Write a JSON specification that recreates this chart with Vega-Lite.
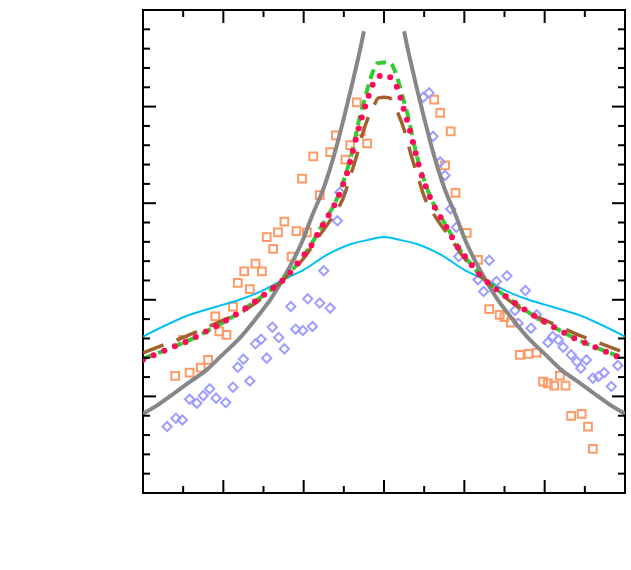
{
  "$schema": "https://vega.github.io/schema/vega-lite/v6.json",
  "width": 482,
  "height": 483,
  "autosize": "none",
  "padding": {"left": 143, "top": 10, "right": 6, "bottom": 77},
  "background": "white",
  "datasets": {
    "xticks": [
      {"t": -3, "k": "major", "e": 1}, {"t": -2.5, "k": "minor", "e": 1}, {"t": -2, "k": "major", "e": 1}, {"t": -1.5, "k": "minor", "e": 1},
      {"t": -1, "k": "major", "e": 1}, {"t": -0.5, "k": "minor", "e": 1}, {"t": 0, "k": "major", "e": 1}, {"t": 0.5, "k": "minor", "e": 1},
      {"t": 1, "k": "major", "e": 1}, {"t": 1.5, "k": "minor", "e": 1}, {"t": 2, "k": "major", "e": 1}, {"t": 2.5, "k": "minor", "e": 1},
      {"t": 3, "k": "major", "e": 1},
      {"t": -3, "k": "major", "e": 1.25}, {"t": -2.5, "k": "minor", "e": 1.25}, {"t": -2, "k": "major", "e": 1.25}, {"t": -1.5, "k": "minor", "e": 1.25},
      {"t": -1, "k": "major", "e": 1.25}, {"t": -0.5, "k": "minor", "e": 1.25}, {"t": 0, "k": "major", "e": 1.25}, {"t": 0.5, "k": "minor", "e": 1.25},
      {"t": 1, "k": "major", "e": 1.25}, {"t": 1.5, "k": "minor", "e": 1.25}, {"t": 2, "k": "major", "e": 1.25}, {"t": 2.5, "k": "minor", "e": 1.25},
      {"t": 3, "k": "major", "e": 1.25}
    ],
    "yticks": [
      {"t": 1.0, "k": "major", "e": -3}, {"t": 1.01, "k": "minor", "e": -3}, {"t": 1.02, "k": "minor", "e": -3}, {"t": 1.03, "k": "minor", "e": -3},
      {"t": 1.04, "k": "minor", "e": -3}, {"t": 1.05, "k": "major", "e": -3}, {"t": 1.06, "k": "minor", "e": -3}, {"t": 1.07, "k": "minor", "e": -3},
      {"t": 1.08, "k": "minor", "e": -3}, {"t": 1.09, "k": "minor", "e": -3}, {"t": 1.1, "k": "major", "e": -3}, {"t": 1.11, "k": "minor", "e": -3},
      {"t": 1.12, "k": "minor", "e": -3}, {"t": 1.13, "k": "minor", "e": -3}, {"t": 1.14, "k": "minor", "e": -3}, {"t": 1.15, "k": "major", "e": -3},
      {"t": 1.16, "k": "minor", "e": -3}, {"t": 1.17, "k": "minor", "e": -3}, {"t": 1.18, "k": "minor", "e": -3}, {"t": 1.19, "k": "minor", "e": -3},
      {"t": 1.2, "k": "major", "e": -3}, {"t": 1.21, "k": "minor", "e": -3}, {"t": 1.22, "k": "minor", "e": -3}, {"t": 1.23, "k": "minor", "e": -3},
      {"t": 1.24, "k": "minor", "e": -3}, {"t": 1.25, "k": "major", "e": -3},
      {"t": 1.0, "k": "major", "e": 3}, {"t": 1.01, "k": "minor", "e": 3}, {"t": 1.02, "k": "minor", "e": 3}, {"t": 1.03, "k": "minor", "e": 3},
      {"t": 1.04, "k": "minor", "e": 3}, {"t": 1.05, "k": "major", "e": 3}, {"t": 1.06, "k": "minor", "e": 3}, {"t": 1.07, "k": "minor", "e": 3},
      {"t": 1.08, "k": "minor", "e": 3}, {"t": 1.09, "k": "minor", "e": 3}, {"t": 1.1, "k": "major", "e": 3}, {"t": 1.11, "k": "minor", "e": 3},
      {"t": 1.12, "k": "minor", "e": 3}, {"t": 1.13, "k": "minor", "e": 3}, {"t": 1.14, "k": "minor", "e": 3}, {"t": 1.15, "k": "major", "e": 3},
      {"t": 1.16, "k": "minor", "e": 3}, {"t": 1.17, "k": "minor", "e": 3}, {"t": 1.18, "k": "minor", "e": 3}, {"t": 1.19, "k": "minor", "e": 3},
      {"t": 1.2, "k": "major", "e": 3}, {"t": 1.21, "k": "minor", "e": 3}, {"t": 1.22, "k": "minor", "e": 3}, {"t": 1.23, "k": "minor", "e": 3},
      {"t": 1.24, "k": "minor", "e": 3}, {"t": 1.25, "k": "major", "e": 3}
    ],
    "gray": [
      {"b": "L", "x": -3.0, "v": 1.041}, {"b": "L", "x": -2.8, "v": 1.046}, {"b": "L", "x": -2.6, "v": 1.052},
      {"b": "L", "x": -2.4, "v": 1.058}, {"b": "L", "x": -2.2, "v": 1.064}, {"b": "L", "x": -2.0, "v": 1.072},
      {"b": "L", "x": -1.8, "v": 1.080}, {"b": "L", "x": -1.6, "v": 1.090}, {"b": "L", "x": -1.4, "v": 1.101},
      {"b": "L", "x": -1.2, "v": 1.115}, {"b": "L", "x": -1.0, "v": 1.132}, {"b": "L", "x": -0.9, "v": 1.143},
      {"b": "L", "x": -0.75, "v": 1.158}, {"b": "L", "x": -0.6, "v": 1.178}, {"b": "L", "x": -0.5, "v": 1.194},
      {"b": "L", "x": -0.4, "v": 1.211}, {"b": "L", "x": -0.35, "v": 1.220}, {"b": "L", "x": -0.3, "v": 1.229},
      {"b": "L", "x": -0.25, "v": 1.239},
      {"b": "R", "x": 0.25, "v": 1.239}, {"b": "R", "x": 0.3, "v": 1.229}, {"b": "R", "x": 0.35, "v": 1.220},
      {"b": "R", "x": 0.4, "v": 1.211}, {"b": "R", "x": 0.5, "v": 1.194}, {"b": "R", "x": 0.6, "v": 1.178},
      {"b": "R", "x": 0.75, "v": 1.158}, {"b": "R", "x": 0.9, "v": 1.143}, {"b": "R", "x": 1.0, "v": 1.132},
      {"b": "R", "x": 1.2, "v": 1.115}, {"b": "R", "x": 1.4, "v": 1.101}, {"b": "R", "x": 1.6, "v": 1.090},
      {"b": "R", "x": 1.8, "v": 1.080}, {"b": "R", "x": 2.0, "v": 1.072}, {"b": "R", "x": 2.2, "v": 1.064},
      {"b": "R", "x": 2.4, "v": 1.058}, {"b": "R", "x": 2.6, "v": 1.052}, {"b": "R", "x": 2.8, "v": 1.046},
      {"b": "R", "x": 3.0, "v": 1.041}
    ],
    "cyan": [
      {"x": -3.0, "v": 1.081}, {"x": -2.4, "v": 1.0925}, {"x": -2.0, "v": 1.0975}, {"x": -1.8, "v": 1.100},
      {"x": -1.5, "v": 1.105}, {"x": -1.25, "v": 1.1105}, {"x": -1.0, "v": 1.1155}, {"x": -0.7, "v": 1.1235},
      {"x": -0.4, "v": 1.129}, {"x": -0.2, "v": 1.131}, {"x": 0.0, "v": 1.1325}, {"x": 0.2, "v": 1.131},
      {"x": 0.4, "v": 1.129}, {"x": 0.7, "v": 1.1235}, {"x": 1.0, "v": 1.1155}, {"x": 1.25, "v": 1.1105},
      {"x": 1.5, "v": 1.105}, {"x": 1.8, "v": 1.100}, {"x": 2.0, "v": 1.0975}, {"x": 2.4, "v": 1.0925},
      {"x": 3.0, "v": 1.081}
    ],
    "green": [
      {"x": -3.0, "v": 1.0695}, {"x": -2.8, "v": 1.0727}, {"x": -2.6, "v": 1.076}, {"x": -2.4, "v": 1.0795},
      {"x": -2.2, "v": 1.0839}, {"x": -2.0, "v": 1.0883}, {"x": -1.8, "v": 1.0935}, {"x": -1.6, "v": 1.0993},
      {"x": -1.4, "v": 1.1055}, {"x": -1.2, "v": 1.1128}, {"x": -1.0, "v": 1.1228}, {"x": -0.9, "v": 1.129},
      {"x": -0.8, "v": 1.1365}, {"x": -0.7, "v": 1.1435}, {"x": -0.6, "v": 1.151}, {"x": -0.5, "v": 1.162},
      {"x": -0.45, "v": 1.1685}, {"x": -0.4, "v": 1.176}, {"x": -0.35, "v": 1.1855}, {"x": -0.3, "v": 1.195},
      {"x": -0.26, "v": 1.201}, {"x": -0.22, "v": 1.207}, {"x": -0.18, "v": 1.213}, {"x": -0.13, "v": 1.219},
      {"x": -0.08, "v": 1.2225}, {"x": 0.0, "v": 1.2228}, {"x": 0.08, "v": 1.2225}, {"x": 0.13, "v": 1.219},
      {"x": 0.18, "v": 1.213}, {"x": 0.22, "v": 1.207}, {"x": 0.26, "v": 1.201}, {"x": 0.3, "v": 1.195},
      {"x": 0.35, "v": 1.1855}, {"x": 0.4, "v": 1.176}, {"x": 0.45, "v": 1.1685}, {"x": 0.5, "v": 1.162},
      {"x": 0.6, "v": 1.151}, {"x": 0.7, "v": 1.1435}, {"x": 0.8, "v": 1.1365}, {"x": 0.9, "v": 1.129},
      {"x": 1.0, "v": 1.1228}, {"x": 1.2, "v": 1.1128}, {"x": 1.4, "v": 1.1055}, {"x": 1.6, "v": 1.0993},
      {"x": 1.8, "v": 1.0935}, {"x": 2.0, "v": 1.0883}, {"x": 2.2, "v": 1.0839}, {"x": 2.4, "v": 1.0795},
      {"x": 2.6, "v": 1.076}, {"x": 2.8, "v": 1.0727}, {"x": 3.0, "v": 1.0695}
    ],
    "red": [
      {"x": -3.0, "v": 1.069}, {"x": -2.8, "v": 1.0725}, {"x": -2.6, "v": 1.076}, {"x": -2.4, "v": 1.0795},
      {"x": -2.2, "v": 1.0839}, {"x": -2.0, "v": 1.0885}, {"x": -1.8, "v": 1.0935}, {"x": -1.6, "v": 1.0993},
      {"x": -1.4, "v": 1.1055}, {"x": -1.2, "v": 1.1125}, {"x": -1.0, "v": 1.123}, {"x": -0.9, "v": 1.1285},
      {"x": -0.8, "v": 1.136}, {"x": -0.7, "v": 1.143}, {"x": -0.6, "v": 1.1505}, {"x": -0.5, "v": 1.1608},
      {"x": -0.45, "v": 1.167}, {"x": -0.4, "v": 1.175}, {"x": -0.35, "v": 1.1832}, {"x": -0.3, "v": 1.1912},
      {"x": -0.25, "v": 1.198}, {"x": -0.2, "v": 1.2045}, {"x": -0.15, "v": 1.2105}, {"x": -0.1, "v": 1.2142},
      {"x": 0.0, "v": 1.2165}, {"x": 0.1, "v": 1.2142}, {"x": 0.15, "v": 1.2112}, {"x": 0.2, "v": 1.2053},
      {"x": 0.25, "v": 1.198}, {"x": 0.3, "v": 1.1912}, {"x": 0.35, "v": 1.1832}, {"x": 0.4, "v": 1.175},
      {"x": 0.45, "v": 1.167}, {"x": 0.5, "v": 1.1608}, {"x": 0.6, "v": 1.1505}, {"x": 0.7, "v": 1.143},
      {"x": 0.8, "v": 1.136}, {"x": 0.9, "v": 1.1285}, {"x": 1.0, "v": 1.123}, {"x": 1.2, "v": 1.1125},
      {"x": 1.4, "v": 1.1055}, {"x": 1.6, "v": 1.0993}, {"x": 1.8, "v": 1.0935}, {"x": 2.0, "v": 1.0885},
      {"x": 2.2, "v": 1.0839}, {"x": 2.4, "v": 1.0795}, {"x": 2.6, "v": 1.076}, {"x": 2.8, "v": 1.0725},
      {"x": 3.0, "v": 1.069}
    ],
    "brown": [
      {"x": -3.0, "v": 1.0725}, {"x": -2.8, "v": 1.0758}, {"x": -2.5, "v": 1.0805}, {"x": -2.3, "v": 1.084},
      {"x": -2.0, "v": 1.0895}, {"x": -1.8, "v": 1.093}, {"x": -1.5, "v": 1.1015}, {"x": -1.2, "v": 1.1125},
      {"x": -1.0, "v": 1.1215}, {"x": -0.8, "v": 1.1335}, {"x": -0.65, "v": 1.1423}, {"x": -0.5, "v": 1.1535},
      {"x": -0.42, "v": 1.164}, {"x": -0.33, "v": 1.176}, {"x": -0.27, "v": 1.1855}, {"x": -0.17, "v": 1.197},
      {"x": -0.12, "v": 1.201}, {"x": -0.07, "v": 1.2045}, {"x": 0.0, "v": 1.2048}, {"x": 0.07, "v": 1.2045},
      {"x": 0.12, "v": 1.201}, {"x": 0.17, "v": 1.197}, {"x": 0.27, "v": 1.1855}, {"x": 0.33, "v": 1.176},
      {"x": 0.42, "v": 1.164}, {"x": 0.5, "v": 1.1535}, {"x": 0.65, "v": 1.1423}, {"x": 0.8, "v": 1.1335},
      {"x": 1.0, "v": 1.1215}, {"x": 1.2, "v": 1.1125}, {"x": 1.5, "v": 1.1015}, {"x": 1.8, "v": 1.093},
      {"x": 2.0, "v": 1.0895}, {"x": 2.3, "v": 1.084}, {"x": 2.5, "v": 1.0805}, {"x": 2.8, "v": 1.0758},
      {"x": 3.0, "v": 1.0725}
    ],
    "squares": [
      {"x": -0.34, "v": 1.2022}, {"x": -0.60, "v": 1.1851}, {"x": -0.67, "v": 1.1765}, {"x": -0.42, "v": 1.180},
      {"x": -0.29, "v": 1.1872}, {"x": -0.21, "v": 1.181}, {"x": -0.48, "v": 1.1725}, {"x": -0.88, "v": 1.1743},
      {"x": -1.02, "v": 1.1627}, {"x": -0.80, "v": 1.1542}, {"x": -1.24, "v": 1.1404}, {"x": -1.32, "v": 1.1349},
      {"x": -1.46, "v": 1.1325}, {"x": -1.09, "v": 1.1356}, {"x": -0.96, "v": 1.1349}, {"x": -1.38, "v": 1.1263},
      {"x": -1.15, "v": 1.1224}, {"x": -1.74, "v": 1.1147}, {"x": -1.60, "v": 1.1187}, {"x": -1.52, "v": 1.1147},
      {"x": -1.82, "v": 1.1087}, {"x": -1.67, "v": 1.1055}, {"x": -1.88, "v": 1.0965}, {"x": -2.10, "v": 1.0914},
      {"x": -2.05, "v": 1.0836}, {"x": -1.96, "v": 1.0819}, {"x": -2.50, "v": 1.0793}, {"x": -2.19, "v": 1.0689},
      {"x": -2.28, "v": 1.0649}, {"x": -2.42, "v": 1.0623}, {"x": -2.60, "v": 1.0606},
      {"x": 0.625, "v": 1.2036}, {"x": 0.70, "v": 1.1967}, {"x": 0.83, "v": 1.1872}, {"x": 0.76, "v": 1.1696},
      {"x": 0.89, "v": 1.1553}, {"x": 1.03, "v": 1.1346}, {"x": 1.17, "v": 1.1207}, {"x": 1.31, "v": 1.0952},
      {"x": 1.44, "v": 1.0922}, {"x": 1.50, "v": 1.091}, {"x": 1.58, "v": 1.0882}, {"x": 1.69, "v": 1.0715},
      {"x": 1.80, "v": 1.072}, {"x": 1.90, "v": 1.0727}, {"x": 1.98, "v": 1.0577}, {"x": 2.04, "v": 1.0568},
      {"x": 2.12, "v": 1.0556}, {"x": 2.19, "v": 1.0608}, {"x": 2.26, "v": 1.0556}, {"x": 2.33, "v": 1.0399},
      {"x": 2.46, "v": 1.0409}, {"x": 2.54, "v": 1.0344}, {"x": 2.60, "v": 1.0228}
    ],
    "diamonds": [
      {"x": -0.75, "v": 1.115}, {"x": -0.95, "v": 1.1005}, {"x": -0.80, "v": 1.0983}, {"x": -0.67, "v": 1.0957},
      {"x": -1.16, "v": 1.0965}, {"x": -1.39, "v": 1.0858}, {"x": -1.10, "v": 1.0848}, {"x": -1.01, "v": 1.0841},
      {"x": -0.89, "v": 1.0862}, {"x": -1.31, "v": 1.0805}, {"x": -1.53, "v": 1.0796}, {"x": -1.60, "v": 1.0772},
      {"x": -1.24, "v": 1.0746}, {"x": -1.46, "v": 1.0698}, {"x": -1.75, "v": 1.0693}, {"x": -1.82, "v": 1.0651},
      {"x": -1.67, "v": 1.058}, {"x": -1.88, "v": 1.0548}, {"x": -1.97, "v": 1.0468}, {"x": -2.09, "v": 1.0491},
      {"x": -2.17, "v": 1.0539}, {"x": -2.25, "v": 1.0504}, {"x": -2.33, "v": 1.0465}, {"x": -2.42, "v": 1.0485},
      {"x": -2.51, "v": 1.0378}, {"x": -2.59, "v": 1.0387}, {"x": -2.70, "v": 1.0344}, {"x": -0.55, "v": 1.1556},
      {"x": -0.58, "v": 1.1409},
      {"x": 0.49, "v": 1.2048}, {"x": 0.56, "v": 1.2071}, {"x": 0.61, "v": 1.1846}, {"x": 0.70, "v": 1.1713},
      {"x": 0.76, "v": 1.1644}, {"x": 0.83, "v": 1.147}, {"x": 0.90, "v": 1.1375}, {"x": 0.93, "v": 1.1224},
      {"x": 1.31, "v": 1.1204}, {"x": 1.17, "v": 1.1104}, {"x": 1.53, "v": 1.1124}, {"x": 1.40, "v": 1.1095},
      {"x": 1.24, "v": 1.1043}, {"x": 1.76, "v": 1.1048}, {"x": 1.63, "v": 1.0945}, {"x": 1.90, "v": 1.0922},
      {"x": 1.67, "v": 1.0879}, {"x": 1.83, "v": 1.0853}, {"x": 2.04, "v": 1.0779}, {"x": 2.10, "v": 1.081},
      {"x": 2.17, "v": 1.0793}, {"x": 2.23, "v": 1.0755}, {"x": 2.33, "v": 1.0715}, {"x": 2.40, "v": 1.068},
      {"x": 2.52, "v": 1.0689}, {"x": 2.45, "v": 1.0646}, {"x": 2.60, "v": 1.0594}, {"x": 2.67, "v": 1.0603},
      {"x": 2.74, "v": 1.0623}, {"x": 2.83, "v": 1.0551}, {"x": 2.91, "v": 1.066}
    ]
  },
  "layer": [
    {
      "data": {"name": "squares"},
      "mark": {"type": "point", "shape": "square", "size": 60, "filled": false, "stroke": "#ff9a66", "strokeWidth": 2, "opacity": 1},
      "encoding": {
        "x": {
          "field": "x", "type": "quantitative", "scale": {"domain": [-3, 3], "nice": false, "zero": false},
          "axis": {
            "orient": "bottom", "values": [-3, -2, -1, 0, 1, 2, 3], "ticks": false, "domain": false, "grid": false,
            "labelPadding": 10, "labelExpr": "datum.value < 0 ? '-' + abs(datum.value) : '' + datum.value",
            "title": "nₑ, 10¹² cm⁻²", "titleFontSize": 28, "titleFontWeight": "normal",
            "titleX": 258, "titleY": 64, "titleBaseline": "alphabetic"
          }
        },
        "y": {
          "field": "v", "type": "quantitative", "scale": {"domain": [1, 1.25], "nice": false, "zero": false},
          "axis": {
            "orient": "left", "values": [1, 1.05, 1.1, 1.15, 1.2, 1.25], "ticks": false, "domain": false, "grid": false,
            "labelPadding": 8, "labelOffset": 1, "format": "~g",
            "title": ["v*F,", "10⁶ m/s"], "titleFontSize": 27, "titleFontWeight": "normal", "titleAngle": 0,
            "titleAlign": "left", "titleBaseline": "alphabetic", "titleX": -141, "titleY": 228, "titleLineHeight": 45
          }
        }
      }
    },
    {
      "data": {"name": "diamonds"},
      "mark": {"type": "point", "shape": "diamond", "size": 85, "filled": false, "stroke": "#9d9dff", "strokeWidth": 2, "opacity": 1},
      "encoding": {
        "x": {"field": "x", "type": "quantitative"},
        "y": {"field": "v", "type": "quantitative"}
      }
    },
    {
      "data": {"name": "gray"},
      "mark": {"type": "line", "color": "#878787", "strokeWidth": 4, "interpolate": "monotone", "clip": true},
      "encoding": {
        "detail": {"field": "b"},
        "x": {"field": "x", "type": "quantitative"},
        "y": {"field": "v", "type": "quantitative"}
      }
    },
    {
      "data": {"name": "cyan"},
      "mark": {"type": "line", "color": "#00bff2", "strokeWidth": 2, "interpolate": "monotone", "clip": true},
      "encoding": {
        "x": {"field": "x", "type": "quantitative"},
        "y": {"field": "v", "type": "quantitative"}
      }
    },
    {
      "data": {"name": "green"},
      "mark": {"type": "line", "color": "#33cc33", "strokeWidth": 4, "strokeDash": [10, 6], "interpolate": "monotone", "clip": true},
      "encoding": {
        "x": {"field": "x", "type": "quantitative"},
        "y": {"field": "v", "type": "quantitative"}
      }
    },
    {
      "data": {"name": "brown"},
      "mark": {"type": "line", "color": "#a0612d", "strokeWidth": 3.5, "strokeDash": [22, 14], "interpolate": "monotone", "clip": true},
      "encoding": {
        "x": {"field": "x", "type": "quantitative"},
        "y": {"field": "v", "type": "quantitative"}
      }
    },
    {
      "data": {"name": "red"},
      "mark": {"type": "line", "color": "#ff0a5a", "strokeWidth": 6, "strokeDash": [0, 11.5], "strokeCap": "round", "interpolate": "monotone", "clip": true},
      "encoding": {
        "x": {"field": "x", "type": "quantitative"},
        "y": {"field": "v", "type": "quantitative"}
      }
    },
    {
      "data": {"name": "xticks"},
      "mark": {"type": "tick", "orient": "vertical", "color": "black", "thickness": 2, "opacity": 1, "clip": true},
      "encoding": {
        "x": {"field": "t", "type": "quantitative", "axis": null},
        "y": {"field": "e", "type": "quantitative", "axis": null},
        "size": {"field": "k", "type": "ordinal", "scale": {"domain": ["major", "minor"], "range": [26, 14]}, "legend": null}
      }
    },
    {
      "data": {"name": "yticks"},
      "mark": {"type": "tick", "orient": "horizontal", "color": "black", "thickness": 2, "opacity": 1, "clip": true},
      "encoding": {
        "y": {"field": "t", "type": "quantitative", "axis": null},
        "x": {"field": "e", "type": "quantitative", "axis": null},
        "size": {"field": "k", "type": "ordinal", "scale": {"domain": ["major", "minor"], "range": [26, 14]}, "legend": null}
      }
    }
  ],
  "config": {
    "view": {"stroke": "black", "strokeWidth": 2},
    "font": "Liberation Serif",
    "axis": {
      "labelFont": "Liberation Serif", "labelFontSize": 22, "labelColor": "black",
      "titleFont": "Liberation Serif", "titleColor": "black"
    }
  }
}
